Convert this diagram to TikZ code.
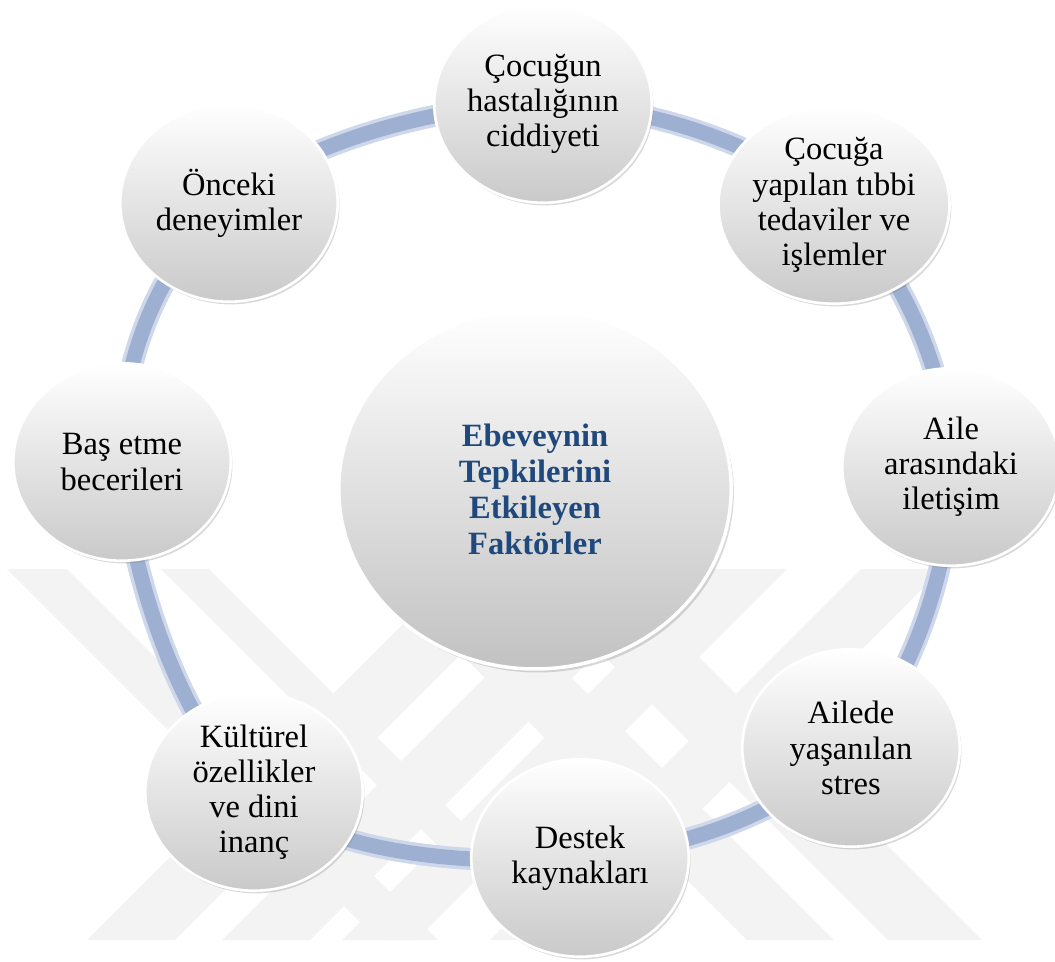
\documentclass[tikz,border=0pt]{standalone}
\usepackage{fontspec}
\setmainfont{Liberation Serif}
\usetikzlibrary{shapes.geometric,shadows,backgrounds}
\definecolor{halka}{RGB}{158,176,210}
\definecolor{halkakenar}{RGB}{206,216,234}
\definecolor{baslik}{RGB}{31,73,125}
\definecolor{filigran}{RGB}{243,243,243}

\begin{document}
\begin{tikzpicture}[x=0.02cm,y=-0.02cm]
    \useasboundingbox (0,0) rectangle (1055,961);
    \begin{scope}[every node/.style={ellipse, draw=white, line width=1.5pt,
        top color=white, bottom color=black!21,
        drop shadow={opacity=0.3, shadow xshift=1pt, shadow yshift=-1.5pt},
        minimum width=4.35cm, minimum height=3.95cm, inner sep=0pt,
        align=center, font=\fontsize{18.5}{20}\selectfont}]
        \node (f1) at (543,104) {Çocuğun\\hastalığının\\ciddiyeti};
        \node (f2) at (834,205) {Çocuğa\\yapılan tıbbi\\tedaviler ve\\işlemler};
        \node (f3) at (951,467) {Aile\\arasındaki\\iletişim};
        \node (f4) at (851,748) {Ailede\\yaşanılan\\stres};
        \node (f5) at (580,858) {Destek\\kaynakları};
        \node (f6) at (254,792) {Kültürel\\özellikler\\ve dini\\inanç};
        \node (f7) at (122,462) {Baş etme\\becerileri};
        \node (f8) at (229,203) {Önceki\\deneyimler};
    \end{scope}
    \node[ellipse, draw=white, line width=2pt, top color=white, bottom color=black!24,
        drop shadow={opacity=0.3, shadow xshift=1.5pt, shadow yshift=-2pt},
        minimum width=7.85cm, minimum height=7.2cm, inner sep=0pt, align=center,
        text=baslik, font=\fontsize{18.5}{20.5}\selectfont\bfseries]
        (merkez) at (535,489) {Ebeveynin\\Tepkilerini\\Etkileyen\\Faktörler};
    \begin{pgfonlayer}{background}
        % filigran
        \foreach \a/\b/\c/\d in {7/67/438/378, 161/209/580/532, 458/546/175/87,
            593/681/310/222, 713/787/416/342, 861/942/571/490,
            376/463/834/747, 517/611/982/888}
            \fill[filigran] (\a,569) -- (\b,569) -- (\c,940) -- (\d,940) -- cycle;
        % halka
        \draw[halkakenar, line width=0.44cm] plot[smooth cycle, tension=0.6] coordinates
            {(f1.center) (f2.center) (f3.center) (f4.center) (f5.center) (f6.center) (f7.center) (f8.center)};
        \draw[halka, line width=0.3cm] plot[smooth cycle, tension=0.6] coordinates
            {(f1.center) (f2.center) (f3.center) (f4.center) (f5.center) (f6.center) (f7.center) (f8.center)};
    \end{pgfonlayer}
\end{tikzpicture}
\end{document}
